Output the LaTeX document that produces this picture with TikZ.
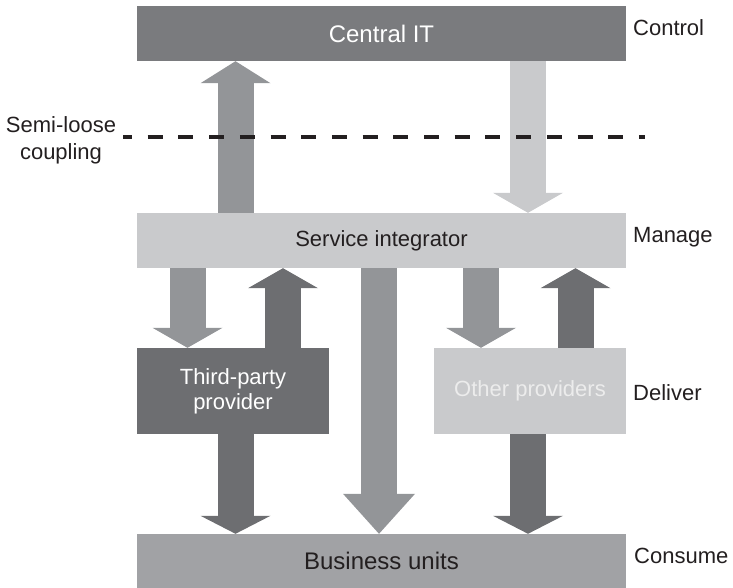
\documentclass[tikz,border=0pt]{standalone}
\usepackage{fontspec}
\setmainfont{Liberation Sans}
\usetikzlibrary{arrows.meta}
\definecolor{itgray}{HTML}{7A7B7E}
\definecolor{tpgray}{HTML}{6D6E71}
\definecolor{midgray}{HTML}{939598}
\definecolor{bugray}{HTML}{A1A2A5}
\definecolor{ltgray}{HTML}{C9CACC}
\definecolor{optext}{HTML}{ECECEC}
\definecolor{ink}{HTML}{231F20}
\begin{document}
\begin{tikzpicture}[x=1pt,y=-1pt,
    box/.style={rectangle,inner sep=0pt,minimum width=489pt,minimum height=55pt,font=\fontsize{22}{27}\selectfont},
    provider/.style={rectangle,inner sep=0pt,minimum width=192pt,minimum height=86pt,align=center,font=\fontsize{22}{25}\selectfont},
    level/.style={anchor=west,text=ink,inner sep=0pt,font=\fontsize{22}{27}\selectfont},
    flow/.style={line width=36pt,draw=#1,-{Triangle[width=70pt,length=20pt,line width=0pt]}}]
    \useasboundingbox (0,0) rectangle (733,588);
    % layers
    \node[box,fill=itgray,text=white,font=\fontsize{24}{28}\selectfont] (cit) at (381.5,33.5) {Central IT};
    \node[box,fill=ltgray,text=ink] (si) at (381.5,240.5) {Service integrator};
    \node[provider,fill=tpgray,text=white] (tpp) at (233,391) {Third-party\\provider};
    \node[provider,fill=ltgray,text=optext] (op) at (530,391) {Other providers};
    \node[box,fill=bugray,text=ink,minimum height=54pt,font=\fontsize{24}{28}\selectfont] (bu) at (381.5,561) {Business units};
    % right hand labels
    \node[level] (ctl) at (633,28) {Control};
    \node[level] (mng) at (633,237) {Manage};
    \node[level] (dlv) at (633,393) {Deliver};
    \node[level] (csm) at (634,556) {Consume};
    \node[text=ink,align=center,inner sep=0pt,font=\fontsize{22}{27}\selectfont] (slc) at (61,140) {Semi-loose\\coupling};
    % arrow lanes
    \coordinate (l1) at (235.5,0);
    \coordinate (l2) at (528,0);
    \coordinate (l3) at (187.5,0);
    \coordinate (l4) at (283,0);
    \coordinate (l5) at (481,0);
    \coordinate (l6) at (575.5,0);
    \coordinate (l7) at (379,0);
    \draw[flow=midgray,-{Triangle[width=70pt,length=22pt,line width=0pt]}] (l1 |- si.north) -- (l1 |- cit.south);
    \draw[flow=ltgray] (l2 |- cit.south) -- (l2 |- si.north);
    \draw[flow=midgray] (l3 |- si.south) -- (l3 |- tpp.north);
    \draw[flow=tpgray] (l4 |- tpp.north) -- (l4 |- si.south);
    \draw[flow=midgray] (l5 |- si.south) -- (l5 |- op.north);
    \draw[flow=tpgray] (l6 |- op.north) -- (l6 |- si.south);
    \draw[flow=tpgray,-{Triangle[width=70pt,length=18pt,line width=0pt]}] (l1 |- tpp.south) -- (l1 |- bu.north);
    \draw[flow=midgray,-{Triangle[width=72pt,length=40pt,line width=0pt]}] (l7 |- si.south) -- (l7 |- bu.north);
    \draw[flow=tpgray,-{Triangle[width=70pt,length=18pt,line width=0pt]}] (l2 |- op.south) -- (l2 |- bu.north);
    % coupling line
    \coordinate (d0) at (123,137);
    \coordinate (d1) at (645,137);
    \draw[ink,line width=4pt,dash pattern=on 15pt off 15.7pt,dash phase=6pt] (d0) -- (d1);
\end{tikzpicture}
\end{document}
